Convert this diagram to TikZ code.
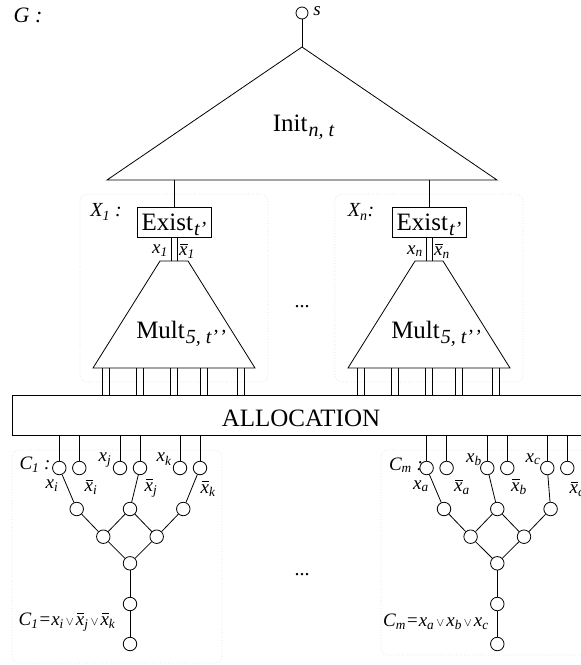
\documentclass[tikz,border=0pt]{standalone}
\usepackage{fontspec}
\setmainfont{Liberation Serif}
\newcommand\fsz[1]{\fontsize{#1}{#1}\selectfont}
\newcommand\sub[1]{\textsubscript{\itshape #1}}
% larger, lowered subscript for the gadget titles
\newcommand\bsub[1]{\kern1pt\raisebox{-5pt}{\fsz{20}\itshape #1}}
% italic x with a bar over it
\newcommand\ovx{\leavevmode\setbox0\hbox{\itshape x}%
  \hbox{\rlap{\kern0.15\wd0\rule[\dimexpr\ht0+0.12em\relax]{0.85\wd0}{0.055em}}\box0}}
\newcommand\orr{{\fsz{12}\,$\vee$\,}}
% one clause gadget: x offset, name prefix, the three leaves that feed the tree
\newcommand\clausetree[5]{%
  \begin{scope}[xshift=#1pt, name prefix=#2-]
    \foreach \i/\x in {1/59.3,2/79.3,3/120,4/140,5/180,6/200}{
      \node[vtx] (leaf\i) at (\x,468) {};
      \coordinate (pin\i) at (\x,435);
      \draw (pin\i) -- (leaf\i);
    }
    \node[vtx] (p1) at (76.7,509) {};
    \node[vtx] (p2) at (130,509) {};
    \node[vtx] (p3) at (183.3,509) {};
    \node[vtx] (q1) at (103.3,536.7) {};
    \node[vtx] (q2) at (156.7,536.7) {};
    \node[vtx] (r) at (130,563.3) {};
    \node[vtx] (u) at (130,604) {};
    \node[vtx] (v) at (130,644) {};
    \draw (leaf#3) -- (p1);
    \draw (leaf#4) -- (p2);
    \draw (leaf#5) -- (p3);
    \draw (p1) -- (q1);
    \draw (p2) -- (q1);
    \draw (p2) -- (q2);
    \draw (p3) -- (q2);
    \draw (q1) -- (r);
    \draw (q2) -- (r);
    \draw (r) -- (u);
    \draw (u) -- (v);
  \end{scope}}
\begin{document}
\begin{tikzpicture}[x=1pt, y=-1pt, line width=0.8pt,
  vtx/.style={circle, draw, fill=white, minimum size=13.5pt, inner sep=0pt},
  grp/.style={draw=black!13, dotted, rounded corners=7pt, line width=0.7pt},
  lab/.style={font=\fsz{19}\itshape, inner sep=0pt},
  big/.style={font=\fsz{25}, inner sep=0pt},
  gadget/.style={draw, font=\fsz{25}, minimum width=74pt, inner sep=3pt,
    text height=20pt, text depth=4pt}]
\useasboundingbox (0,0) rectangle (581,665);

% light frames round the variable and clause gadgets
\draw[grp] (80,194) rectangle (268,382);
\draw[grp] (335,194) rectangle (523,382);
\draw[grp] (12,450) rectangle (222,663);
\draw[grp] (381,450) rectangle (610,655);

\node[lab, font=\fsz{22}\itshape] (gname) at (28,15.5) {G :};

% initialisation tree
\node[vtx, minimum size=12pt] (s) at (302,13) {};
\node[lab] (slab) at (317,11) {s};
\coordinate (apex) at (302,47);
\coordinate (iL) at (107,180);
\coordinate (iR) at (497,180);
\draw (apex) -- (iL) -- (iR) -- cycle;
\draw (s) -- (apex);
\node[big, anchor=base] (init) at (303.5,131) {Init\bsub{n, t}};

% variable gadgets
\foreach \cx/\n in {174/1, 429/n}{
  \coordinate (tap\n) at (\cx,180);
  \node[gadget] (ex\n) at (\cx,222) {Exist\bsub{t’}};
  \draw (tap\n) -- (ex\n.north);
  \coordinate (mt\n) at (\cx,261);
  \draw (\cx-14,261) -- (\cx+14,261) -- (\cx+81,368) -- (\cx-81,368) -- cycle;
  \node[big, anchor=base] (mult\n) at (\cx+7,338) {Mult\bsub{5, t’\kern1pt’}};
  \draw ([xshift=-3pt]ex\n.south) -- ([xshift=-3pt]mt\n);
  \draw ([xshift=3pt]ex\n.south) -- ([xshift=3pt]mt\n);
  \node[lab] (pos\n) at (\cx-14,251) {x\sub{\n}};
  \node[lab] (neg\n) at (\cx+13,251) {\ovx\sub{\n}};
  \foreach \o in {-68,-34,0,30,67}{
    \draw (\cx+\o-3.3,368) -- (\cx+\o-3.3,395);
    \draw (\cx+\o+3.3,368) -- (\cx+\o+3.3,395);
  }
}
\node[lab, font=\fsz{20}\itshape] (xone) at (106,212) {X\sub{1} :};
\node[lab, font=\fsz{20}\itshape] (xn) at (361,212) {X\sub{n}:};
\node[font=\fsz{20}] (dotsA) at (302,307) {...};

% allocation layer
\node[draw, anchor=north west, minimum width=620pt, minimum height=40pt] (alloc) at (12,395) {};
\node[big, anchor=base] (alloctext) at (301,426) {ALLOCATION};

% clause gadgets
\clausetree{0}{cA}{1}{4}{6}
\clausetree{367.3}{cB}{1}{3}{5}

\node[lab] (cone) at (35,465) {C\sub{1} :};
\node[lab] (xi) at (52,486) {x\sub{i}};
\node[lab] (nxi) at (91,487) {\ovx\sub{i}};
\node[lab] (xj) at (105,460) {x\sub{j}};
\node[lab] (nxj) at (151,488) {\ovx\sub{j}};
\node[lab] (xk) at (164,459) {x\sub{k}};
\node[lab] (nxk) at (208,489) {\ovx\sub{k}};
\node[lab] (fone) at (67,622) {C\sub{1}=x\sub{i}\orr\ovx\sub{j}\orr\ovx\sub{k}};

\node[lab] (cm) at (406,465) {C\sub{m} :};
\node[lab] (xa) at (421,486) {x\sub{a}};
\node[lab] (nxa) at (462,487) {\ovx\sub{a}};
\node[lab] (xb) at (474,460) {x\sub{b}};
\node[lab] (nxb) at (519,487) {\ovx\sub{b}};
\node[lab] (xc) at (533,459) {x\sub{c}};
\node[lab] (nxc) at (577,489) {\ovx\sub{c}};
\node[lab] (fm) at (436,622) {C\sub{m}=x\sub{a}\orr x\sub{b}\orr x\sub{c}};

\node[font=\fsz{20}] (dotsB) at (302,575) {...};
\end{tikzpicture}
\end{document}
